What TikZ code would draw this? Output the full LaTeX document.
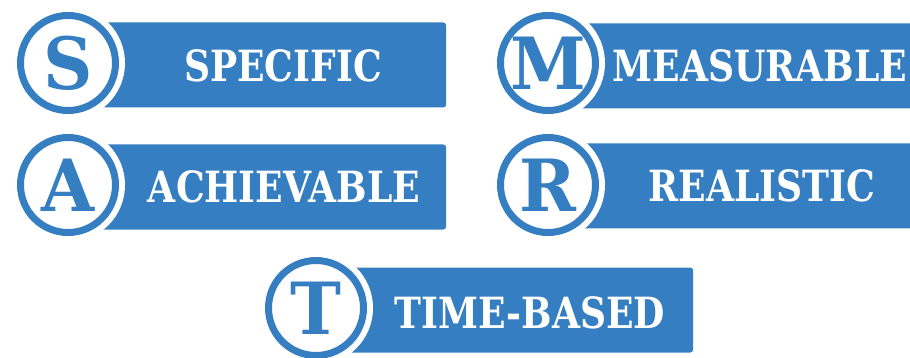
\documentclass[tikz,border=0pt]{standalone}
\usepackage{fontspec}
\setmainfont{DejaVu Serif}
\newfontfamily\slabfont[FakeStretch=0.84]{DejaVu Serif Bold}
\newfontfamily\letterfont[FakeStretch=0.95]{DejaVu Serif Bold}
\usetikzlibrary{positioning}
\definecolor{smartblue}{RGB}{54,126,194}

\begin{document}
\begin{tikzpicture}[
  x=1pt, y=-1pt,
  bar/.style={fill=smartblue, rounded corners=3pt, minimum height=85pt,
              inner sep=0pt, anchor=west},
  ring/.style={circle, draw=smartblue, line width=7pt, fill=white,
               minimum size=95pt, inner sep=0pt,
               preaction={draw=white, line width=19pt},
               text=smartblue, font=\letterfont\fontsize{72}{72}\selectfont},
  word/.style={text=white, inner sep=0pt,
               font=\slabfont\fontsize{43}{43}\selectfont}
]
\useasboundingbox (0,0) rectangle (910,358);
% bars first, circles on top
\node[bar, minimum width=378pt] (s-bar) at (68,65)  {};
\node[bar, minimum width=380pt] (m-bar) at (548,66) {};
\node[bar, minimum width=378pt] (a-bar) at (68,187) {};
\node[bar, minimum width=380pt] (r-bar) at (548,186) {};
\node[bar, minimum width=377pt] (t-bar) at (316,310) {};
% letters
\node[ring] (s) at (68,63)  {S};
\node[ring] (m) at (548,63) {M};
\node[ring] (a) at (68,185) {A};
\node[ring] (r) at (548,185) {R};
\node[ring] (t) at (316,308) {T};
% words
\node[word] (s-word) at (283,66)  {SPECIFIC};
\node[word] (m-word) at (760,66)  {MEASURABLE};
\node[word] (a-word) at (284,187) {ACHIEVABLE};
\node[word] (r-word) at (762,186) {REALISTIC};
\node[word] (t-word) at (530,313) {TIME-BASED};
\end{tikzpicture}
\end{document}
